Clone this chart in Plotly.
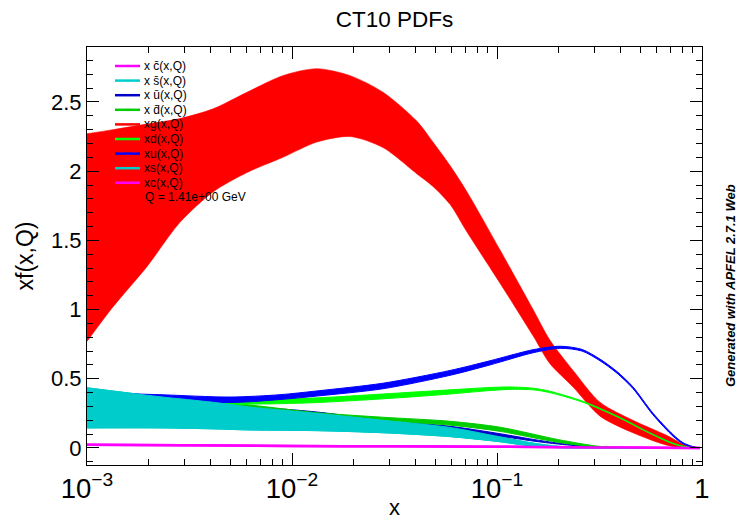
import plotly.graph_objects as go

# ---------------- data ----------------
g_x = [1e-3, 1.34e-3, 1.96e-3, 2.84e-3, 4.12e-3, 6.03e-3, 9.03e-3, 1.32e-2, 1.92e-2, 2.78e-2,
       4.07e-2, 4.87e-2, 5.9e-2, 7.14e-2, 0.1035, 0.15, 0.181, 0.235, 0.318, 0.46, 0.675, 0.845, 0.977]
g_lo = [0.77, 1.02, 1.31, 1.63, 1.85, 1.99, 2.10, 2.21, 2.25, 2.17,
        1.98, 1.89, 1.76, 1.56, 1.19, 0.81, 0.61, 0.44, 0.23, 0.11, 0.02, 0.0, 0.0]
g_hi = [2.27, 2.30, 2.34, 2.38, 2.45, 2.57, 2.69, 2.74, 2.69, 2.57,
        2.36, 2.21, 2.04, 1.85, 1.43, 1.0, 0.78, 0.56, 0.33, 0.20, 0.09, 0.015, 0.002]

u_x = [1e-3, 2.27e-3, 4.99e-3, 8.74e-3, 1.32e-2, 2.78e-2, 5.9e-2, 9.24e-2,
       0.15, 0.203, 0.26, 0.318, 0.385, 0.46, 0.576, 0.722, 0.808, 0.904, 0.977]
u_lo = [0.33, 0.35, 0.328, 0.35, 0.375, 0.428, 0.525, 0.60,
        0.688, 0.72, 0.70, 0.63, 0.54, 0.43, 0.24, 0.085, 0.03, 0.005, 0.0]
u_hi = [0.40, 0.385, 0.368, 0.385, 0.412, 0.468, 0.56, 0.63,
        0.71, 0.735, 0.712, 0.642, 0.552, 0.442, 0.252, 0.097, 0.038, 0.01, 0.001]

d_x = [1e-3, 2.84e-3, 4.99e-3, 8.74e-3, 1.32e-2, 2.78e-2, 5.9e-2, 9.24e-2, 0.116,
       0.15, 0.181, 0.263, 0.385, 0.557, 0.722, 0.845, 0.977]
d_lo = [0.31, 0.31, 0.315, 0.32, 0.328, 0.355, 0.39, 0.415, 0.423,
        0.42, 0.40, 0.33, 0.225, 0.105, 0.03, 0.005, 0.0]
d_hi = [0.38, 0.36, 0.352, 0.355, 0.362, 0.39, 0.42, 0.437, 0.441,
        0.432, 0.41, 0.337, 0.231, 0.11, 0.035, 0.008, 0.001]

ub_x = [1e-3, 2.84e-3, 6.24e-3, 1.32e-2, 2.78e-2, 5.9e-2, 0.1035, 0.15,
        0.2, 0.3, 0.46, 0.977]
ub_lo = [0.30, 0.28, 0.25, 0.22, 0.18, 0.135, 0.085, 0.05,
         0.028, 0.005, 0.0, 0.0]
ub_hi = [0.37, 0.34, 0.30, 0.26, 0.2, 0.157, 0.103, 0.062,
         0.035, 0.009, 0.001, 0.0]

db_x = [1e-3, 2.84e-3, 6.24e-3, 1.32e-2, 2.78e-2, 5.9e-2, 0.1035, 0.2, 0.318,
        0.46, 0.977]
db_lo = [0.31, 0.29, 0.26, 0.23, 0.195, 0.165, 0.12, 0.04, 0.005, 0.0, 0.0]
db_hi = [0.38, 0.35, 0.31, 0.255, 0.222, 0.193, 0.15, 0.06, 0.011, 0.002, 0.0]

s_x = [1e-3, 2.27e-3, 4.12e-3, 6.24e-3, 1.32e-2, 2.78e-2, 5.9e-2, 0.1035,
       0.15, 0.2, 0.3, 0.5, 0.977]
s_lo = [0.145, 0.145, 0.138, 0.13, 0.125, 0.11, 0.082, 0.045,
        0.012, 0.002, 0.0, 0.0, 0.0]
s_hi = [0.435, 0.37, 0.33, 0.295, 0.25, 0.20, 0.148, 0.08,
        0.035, 0.012, 0.002, 0.0, 0.0]

c_x = [1e-3, 5e-3, 1e-2, 3e-2, 0.1, 0.3, 0.6, 0.977]
c_val = [0.023, 0.018, 0.015, 0.012, 0.009, 0.004, 0.001, 0.0]

legend_labels = ["x c\u0304(x,Q)", "x s\u0304(x,Q)", "x u\u0304(x,Q)", "x d\u0304(x,Q)",
                 "xg(x,Q)", "xd(x,Q)", "xu(x,Q)", "xs(x,Q)", "xc(x,Q)"]
legend_colors = ["#ff00ff", "#00cccc", "#0000cc", "#00cc00",
                 "#ff0000", "#00ff00", "#0000ff", "#00cccc", "#ff00ff"]
q_label = "Q = 1.41e+00 GeV"
title_text = "CT10 PDFs"
credit_text = "Generated with APFEL 2.7.1 Web"

FONT = "Liberation Sans, Arial, Helvetica, sans-serif"

fig = go.Figure()


def add_band(x, lo, hi, color, name, lw=1.0):
    fig.add_trace(go.Scatter(x=x, y=lo, mode="lines", line=dict(color=color, width=lw, shape="spline", smoothing=0.8),
                             showlegend=False, hoverinfo="skip"))
    fig.add_trace(go.Scatter(x=x, y=hi, mode="lines", fill="tonexty", fillcolor=color,
                             line=dict(color=color, width=lw, shape="spline", smoothing=0.8),
                             name=name, showlegend=False))


def add_line(x, y, color, name, lw=2.5):
    fig.add_trace(go.Scatter(x=x, y=y, mode="lines", line=dict(color=color, width=lw, shape="spline", smoothing=0.8),
                             name=name, showlegend=False))


# drawing order as in the legend
add_line(c_x, c_val, legend_colors[0], legend_labels[0])
add_band(s_x, s_lo, s_hi, legend_colors[1], legend_labels[1])
add_band(ub_x, ub_lo, ub_hi, legend_colors[2], legend_labels[2])
add_band(db_x, db_lo, db_hi, legend_colors[3], legend_labels[3])
add_band(g_x, g_lo, g_hi, legend_colors[4], legend_labels[4], lw=0.6)
add_band(d_x, d_lo, d_hi, legend_colors[5], legend_labels[5])
add_band(u_x, u_lo, u_hi, legend_colors[6], legend_labels[6])
add_band(s_x, s_lo, s_hi, legend_colors[7], legend_labels[7])
add_line(c_x, c_val, legend_colors[8], legend_labels[8])

# ---------------- manual legend (ROOT-style, compact rows) ----------------
L, R, T, B = 87, 702, 47, 465
W, H = R - L, B - T


def px_x(p):
    return (p - L) / W


def px_y(p):
    return (B - p) / H


shapes = []
annotations = []
row0, step = 66.0, 14.6
for i, (lab, col) in enumerate(zip(legend_labels, legend_colors)):
    yy = px_y(row0 + i * step)
    shapes.append(dict(type="line", xref="paper", yref="paper", x0=px_x(115), x1=px_x(140), y0=yy, y1=yy,
                       line=dict(color=col, width=2.5), layer="above"))
    annotations.append(dict(text=lab, xref="paper", yref="paper", x=px_x(142), y=yy, xanchor="left",
                            yanchor="middle", showarrow=False, font=dict(family=FONT, size=12, color="black")))
annotations.append(dict(text=q_label, xref="paper", yref="paper", x=px_x(143), y=px_y(row0 + 9 * step),
                        xanchor="left", yanchor="middle", showarrow=False,
                        font=dict(family=FONT, size=12, color="black")))
annotations.append(dict(text="<b><i>" + credit_text + "</i></b>", xref="paper", yref="paper",
                        x=px_x(730), y=px_y(285), xanchor="center", yanchor="middle", textangle=-90,
                        showarrow=False, font=dict(family=FONT, size=13, color="black")))

fig.update_layout(
    width=738, height=520,
    margin=dict(l=L, r=738 - R, t=T, b=520 - B, autoexpand=False),
    paper_bgcolor="white", plot_bgcolor="white",
    showlegend=False,
    title=dict(text=title_text, x=0.5, xref="paper", xanchor="center", y=1 - 19 / 520, yref="container",
               yanchor="middle", font=dict(family=FONT, size=22.5, color="black")),
    shapes=shapes, annotations=annotations,
    font=dict(family=FONT, color="black"),
)

fig.update_xaxes(
    type="log", range=[-3, 0], dtick=1, exponentformat="power",
    showgrid=False, zeroline=False,
    showline=True, linecolor="black", linewidth=1, mirror="ticks",
    ticks="inside", ticklen=12, tickcolor="black", tickwidth=1,
    minor=dict(ticks="inside", ticklen=6, dtick="D1", tickcolor="black", showgrid=False),
    tickfont=dict(family=FONT, size=22, color="black"),
    title=dict(text="x", font=dict(family=FONT, size=22, color="black"), standoff=6),
)
fig.update_yaxes(
    range=[-0.123, 2.897], dtick=0.5, tick0=0,
    showgrid=False, zeroline=False,
    showline=True, linecolor="black", linewidth=1, mirror="ticks",
    ticks="inside", ticklen=12, tickcolor="black", tickwidth=1,
    minor=dict(ticks="inside", ticklen=6, dtick=0.1, tickcolor="black", showgrid=False),
    tickfont=dict(family=FONT, size=22, color="black"),
    title=dict(text="xf(x,Q)", font=dict(family=FONT, size=23, color="black"), standoff=10),
)

fig.write_html("out.html", config={"displayModeBar": False},
               post_script="document.body.style.margin='0';document.body.style.overflow='hidden';")
